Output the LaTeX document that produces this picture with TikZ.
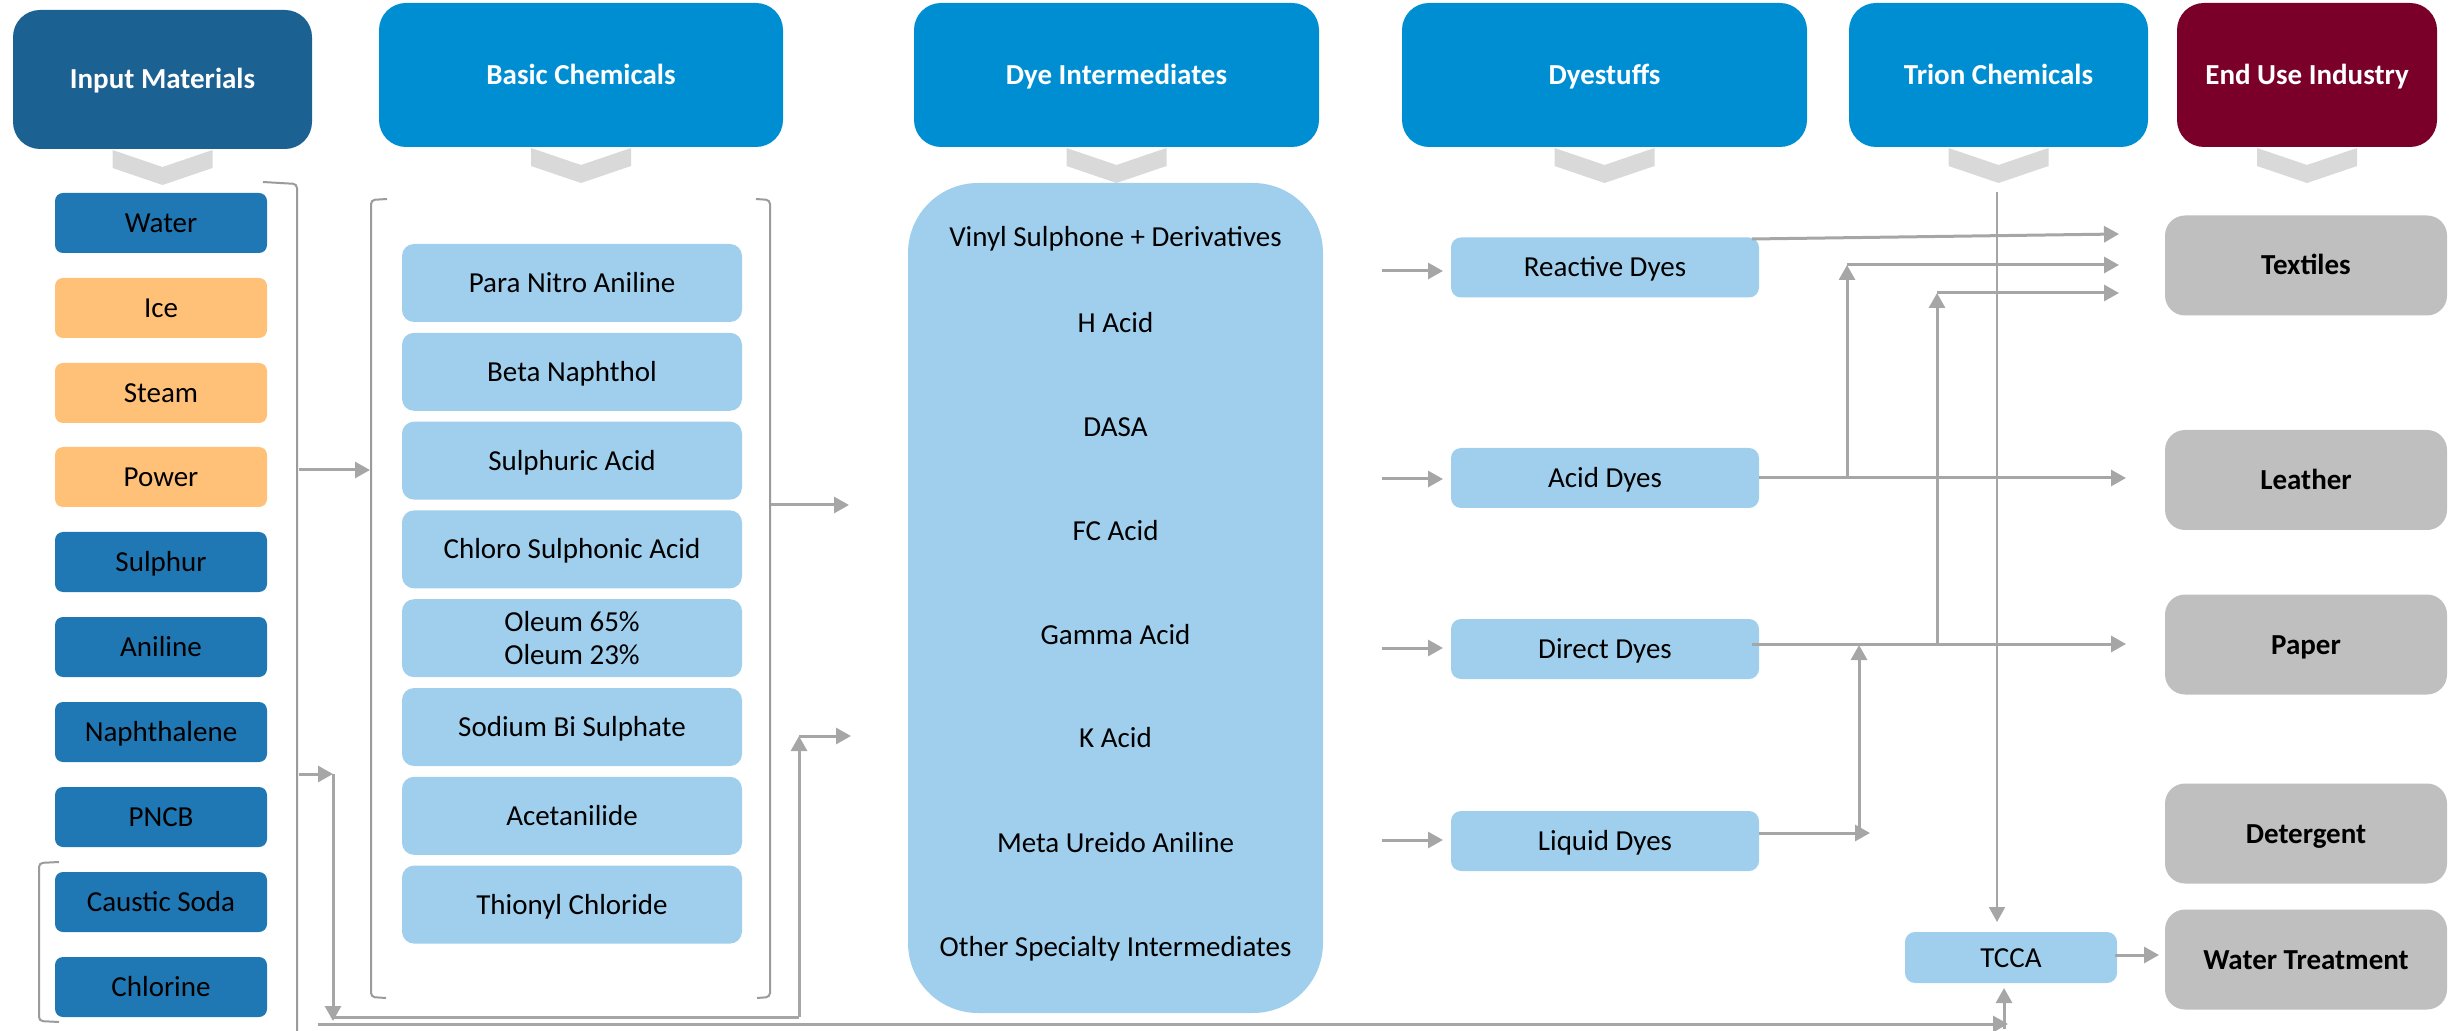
\documentclass[tikz,border=0pt]{standalone}
\usepackage{fontspec}
\setmainfont{Carlito}
\usetikzlibrary{arrows.meta,calc}

\definecolor{hdrnavy}{RGB}{27,97,146}
\definecolor{hdrblue}{RGB}{0,142,211}
\definecolor{hdrmaroon}{RGB}{122,0,41}
\definecolor{rawblue}{RGB}{31,119,180}
\definecolor{utilorange}{RGB}{255,192,120}
\definecolor{itemblue}{RGB}{160,207,238}
\definecolor{enduse}{RGB}{191,191,191}
\definecolor{chev}{RGB}{217,217,217}
\definecolor{link}{RGB}{166,166,166}
\definecolor{bracketgray}{RGB}{155,155,155}

\begin{document}
\begin{tikzpicture}[x=0.5pt,y=-0.5pt,
  every node/.style={font=\fontsize{14.5}{16.5}\selectfont, inner sep=0pt, outer sep=0pt, align=center},
  line/.style={text height=11pt, text depth=1.5pt},
  sz/.style 2 args={minimum width=#1*0.5pt, minimum height=#2*0.5pt},
  header/.style={line, rounded corners=13.5pt, text=white, font=\fontsize{14.5}{16.5}\selectfont\bfseries},
  rawbox/.style={line, sz={212}{60}, rounded corners=4pt, fill=rawblue},
  utilbox/.style={line, sz={212}{60}, rounded corners=4pt, fill=utilorange},
  chembase/.style={sz={340}{78}, rounded corners=6pt, fill=itemblue},
  chembox/.style={line, chembase},
  dyebox/.style={line, sz={308}{60}, rounded corners=5pt, fill=itemblue},
  usebox/.style={line, sz={282}{100}, rounded corners=10pt, fill=enduse, font=\fontsize{14.5}{16.5}\selectfont\bfseries},
  flow/.style={draw=link, line width=1.5pt, -{Triangle[length=7.5pt,width=8pt]}},
  plain/.style={draw=link, line width=1.5pt},
  bracket/.style={draw=bracketgray, line width=1pt, rounded corners=2pt},
]
\useasboundingbox (0,0) rectangle (2456,1031);

% ---------- column headers ----------
\node[header, sz={299}{139}, fill=hdrnavy] (im) at (162.5,79.5) {Input Materials};
\node[header, sz={404}{144}, fill=hdrblue] (bc) at (581,75) {Basic Chemicals};
\node[header, sz={405}{144}, fill=hdrblue] (di) at (1116.5,75) {Dye Intermediates};
\node[header, sz={405}{144}, fill=hdrblue] (ds) at (1604.5,75) {Dyestuffs};
\node[header, sz={299}{144}, fill=hdrblue] (trion) at (1998.5,75) {Trion Chemicals};
\node[header, sz={260}{144}, fill=hdrmaroon] (eu) at (2307,75) {End Use Industry};

% chevrons under the headers
\foreach \h in {im,bc,di,ds,trion,eu}
  \fill[chev] ($(\h.south)+(-50,1)$) -- ++(50,17) -- ++(50,-17) -- ++(0,18) -- ++(-50,17) -- ++(-50,-17) -- cycle;

% ---------- input materials ----------
\node[rawbox]  (water)  at (161,223)   {Water};
\node[utilbox] (ice)    at (161,308)   {Ice};
\node[utilbox] (steam)  at (161,393)   {Steam};
\node[utilbox] (power)  at (161,477)   {Power};
\node[rawbox]  (sulph)  at (161,562)   {Sulphur};
\node[rawbox]  (anil)   at (161,647)   {Aniline};
\node[rawbox]  (naph)   at (161,732)   {Naphthalene};
\node[rawbox]  (pncb)   at (161,817)   {PNCB};
\node[rawbox]  (caustic) at (161,902)  {Caustic Soda};
\node[rawbox]  (chlor)  at (161,987)   {Chlorine};

% ---------- basic chemicals ----------
\node[chembox] (pna)  at (572,283)   {Para Nitro Aniline};
\node[chembox] (bn)   at (572,371.8) {Beta Naphthol};
\node[chembox] (sa)   at (572,460.6) {Sulphuric Acid};
\node[chembox] (csa)  at (572,549.4) {Chloro Sulphonic Acid};
\node[chembase] (ol)  at (572,638.2) {Oleum 65\%\\Oleum 23\%};
\node[chembox] (sbs)  at (572,727)   {Sodium Bi Sulphate};
\node[chembox] (acet) at (572,815.8) {Acetanilide};
\node[chembox] (thio) at (572,904.6) {Thionyl Chloride};

% ---------- dye intermediates ----------
\node[sz={415}{830}, rounded corners=35pt, fill=itemblue] (dibox) at (1115.5,598) {};
\node[line] (vs)  at (1115.5,237) {Vinyl Sulphone + Derivatives};
\node[line] (ha)  at (1115.5,323) {H Acid};
\node[line] (dasa) at (1115.5,427) {DASA};
\node[line] (fc)  at (1115.5,531)   {FC Acid};
\node[line] (ga)  at (1115.5,635)   {Gamma Acid};
\node[line] (ka)  at (1115.5,738)   {K Acid};
\node[line] (mua) at (1115.5,843)   {Meta Ureido Aniline};
\node[line] (osi) at (1115.5,947)   {Other Specialty Intermediates};

% ---------- dyestuffs ----------
\node[dyebox] (reactive) at (1605,267.5) {Reactive Dyes};
\node[dyebox] (acid)     at (1605,478)   {Acid Dyes};
\node[dyebox] (direct)   at (1605,649)   {Direct Dyes};
\node[dyebox] (liquid)   at (1605,841)   {Liquid Dyes};

% ---------- Trion chemicals ----------
\node[line, sz={212}{51}, rounded corners=5pt, fill=itemblue] (tcca) at (2011,957.5) {TCCA};

% ---------- end use industry ----------
\node[usebox] (tex)   at (2306,265.5) {Textiles};
\node[usebox] (lea)   at (2306,480)   {Leather};
\node[usebox] (pap)   at (2306,644.5) {Paper};
\node[usebox] (det)   at (2306,833.5) {Detergent};
\node[usebox] (wt)    at (2306,959.5) {Water Treatment};

% ---------- brackets ----------
\draw[bracket] (263,182) -- (297,184) -- (297,1031);
\draw[bracket] (387,199) -- (371,200) -- (371,997) -- (386,998);
\draw[bracket] (756,199) -- (770,200) -- (770,997) -- (757,998);
\draw[bracket] (59,862) -- (39,863) -- (39,1021) -- (59,1022);

% ---------- connector points ----------
\coordinate (inA)  at (299,470);
\coordinate (bcL)  at (370,470);
\coordinate (bcR)  at (771,505);
\coordinate (diA)  at (849,505);
\coordinate (inB)  at (299,774);
\coordinate (dropT) at (333,774);
\coordinate (dropB) at (333,1021);
\coordinate (runL) at (332,1017);
\coordinate (runR) at (799,1017);
\coordinate (riseT) at (799,736);
\coordinate (diB)  at (851,736);
\coordinate (longL) at (318,1024);
\coordinate (longR) at (2008,1024);
\coordinate (upB)  at (2004,1029);
\coordinate (upT)  at (2004,988);
\coordinate (trionTop) at (1997,192);
\coordinate (trionEnd) at (1997,922);
\coordinate (texT1) at (2119,234);
\coordinate (texT2) at (2119,265);
\coordinate (texT3) at (2119,293);
\coordinate (acidUp) at (1847,478);
\coordinate (acidUpT) at (1847,265);
\coordinate (dirUp) at (1937,644);
\coordinate (dirUpT) at (1937,293);
\coordinate (liqR) at (1870,833);
\coordinate (liqUp) at (1859,833);
\coordinate (liqUpT) at (1859,645);
\coordinate (tccaOut) at (2115,955);
\coordinate (wtIn) at (2159,955);
\coordinate (rxOut) at (1752,239);
\coordinate (dirOut) at (1752,644);
\coordinate (papIn) at (2126,644);

% ---------- connectors: inputs to basic chemicals to intermediates ----------
\draw[flow] (inA) -- (bcL);
\draw[flow] (bcR) -- (diA);
\draw[flow] (inB) -- (dropT);
\draw[flow] (dropT) -- (dropB);
\draw[plain] (runL) -- (runR);
\draw[flow] (runR) -- (riseT);
\draw[flow] (riseT) -- (diB);
\draw[flow] (longL) -- (longR);
\draw[flow] (upB) -- (upT);

% intermediates to dyestuffs
\foreach \d/\yy in {reactive/271, acid/479, direct/648, liquid/840}{
  \coordinate (src) at (1382,\yy);
  \draw[flow, shorten >=4pt] (src) -- (src -| \d.west);
}

% Trion line down to TCCA
\draw[draw=link, line width=1pt, -{Triangle[length=7.5pt,width=8pt]}] (trionTop) -- (trionEnd);

% dyestuffs to end use
\draw[flow] (rxOut) -- (texT1);
\draw[flow, shorten >=19.5pt] (acid.east) -- (acid.east -| lea.west);
\draw[flow] (acidUp) -- (acidUpT);
\draw[flow] (acidUpT) -- (texT2);
\draw[flow] (dirOut) -- (papIn);
\draw[flow] (dirUp) -- (dirUpT);
\draw[flow] (dirUpT) -- (texT3);
\draw[flow] (liquid.east |- liqR) -- (liqR);
\draw[flow] (liqUp) -- (liqUpT);
\draw[flow] (tccaOut) -- (wtIn);
\end{tikzpicture}
\end{document}
